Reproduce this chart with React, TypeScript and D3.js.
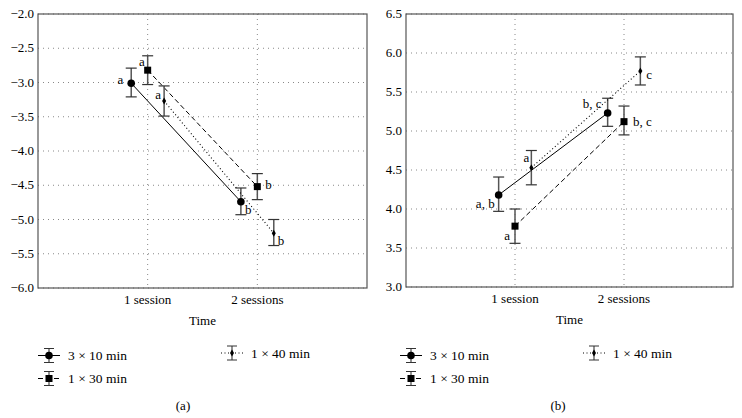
import React, { useEffect, useRef } from "react";
import * as d3 from "d3";

// categories on the x axis
const sessions = ["1 session", "2 sessions"];
const groups = ["3 × 10 min", "1 × 30 min", "1 × 40 min"];

// panel (a): means and error bar ends, per group, per session
const meanA = [
  [-3.01, -4.74],
  [-2.82, -4.52],
  [-3.27, -5.2],
];
const hiA = [
  [-2.79, -4.54],
  [-2.61, -4.33],
  [-3.05, -5.0],
];
const loA = [
  [-3.21, -4.93],
  [-3.03, -4.71],
  [-3.49, -5.38],
];
const lettersA = [
  ["a", "b"],
  ["a", "b"],
  ["a", "b"],
];
const ticksA = [-2.0, -2.5, -3.0, -3.5, -4.0, -4.5, -5.0, -5.5, -6.0];

// panel (b)
const meanB = [
  [4.18, 5.23],
  [3.78, 5.12],
  [4.53, 5.77],
];
const hiB = [
  [4.41, 5.42],
  [4.0, 5.32],
  [4.75, 5.95],
];
const loB = [
  [3.97, 5.06],
  [3.56, 4.95],
  [4.31, 5.59],
];
const lettersB = [
  ["a, b", "b, c"],
  ["a", "b, c"],
  ["a", "c"],
];
const ticksB = [3.0, 3.5, 4.0, 4.5, 5.0, 5.5, 6.0, 6.5];

// letter placement relative to its point: [dx, dy, anchor]
const letterPosA: [number, number, string][][] = [
  [[-8, 1, "end"], [4, 12, "start"]],
  [[-3, -4, "end"], [8, 2, "start"]],
  [[-3, -2, "end"], [4, 12, "start"]],
];
const letterPosB: [number, number, string][][] = [
  [[-4, 13, "end"], [-6, -5, "end"]],
  [[-5, 14, "end"], [9, 4, "start"]],
  [[-2, -6, "end"], [6, 8, "start"]],
];

const dashes = [null, "5,3", "1,2.5"];
const offsets = [-0.15, 0, 0.15];
const FONT = "Liberation Serif";

function drawMarker(g: any, i: number, x: number, y: number) {
  if (i === 0) g.append("circle").attr("cx", x).attr("cy", y).attr("r", 3.8).attr("fill", "#000");
  else if (i === 1) g.append("rect").attr("x", x - 3.5).attr("y", y - 3.5).attr("width", 7).attr("height", 7).attr("fill", "#000");
  else g.append("path").attr("d", d3.symbol().type(d3.symbolDiamond).size(14)()).attr("transform", `translate(${x},${y})`).attr("fill", "#000");
}

function Panel(svg: any, opt: any) {
  const { x0, x1, y0, y1, domain, ticks, mean, hi, lo, letters, letterPos, legendX, caption, captionX, fmt } = opt;
  const x = d3.scaleLinear().domain([0, 3]).range([x0, x1]);
  const y = d3.scaleLinear().domain(domain).range([y1, y0]);
  const g = svg.append("g");

  // grid
  g.selectAll(".hg")
    .data(ticks)
    .join("line")
    .attr("x1", x0)
    .attr("x2", x1)
    .attr("y1", (d: number) => y(d))
    .attr("y2", (d: number) => y(d))
    .attr("stroke", "#888")
    .attr("stroke-dasharray", "1,4");
  g.selectAll(".vg")
    .data(sessions)
    .join("line")
    .attr("x1", (_: any, i: number) => x(i + 1))
    .attr("x2", (_: any, i: number) => x(i + 1))
    .attr("y1", y0)
    .attr("y2", y1)
    .attr("stroke", "#888")
    .attr("stroke-dasharray", "1,4");

  // frame
  g.append("rect")
    .attr("x", x0)
    .attr("y", y0)
    .attr("width", x1 - x0)
    .attr("height", y1 - y0)
    .attr("fill", "none")
    .attr("stroke", "#555")
    .attr("stroke-width", 1.2);

  // y tick labels
  g.selectAll(".yt")
    .data(ticks)
    .join("text")
    .attr("x", x0 - 4)
    .attr("y", (d: number) => y(d) + 4)
    .attr("text-anchor", "end")
    .attr("font-size", 13)
    .text((d: number) => fmt(d));

  // x tick labels
  g.selectAll(".xt")
    .data(sessions)
    .join("text")
    .attr("x", (_: any, i: number) => x(i + 1))
    .attr("y", y1 + 16)
    .attr("text-anchor", "middle")
    .attr("font-size", 13)
    .text((d: string) => d);

  g.append("text")
    .attr("x", (x0 + x1) / 2)
    .attr("y", y1 + 37)
    .attr("text-anchor", "middle")
    .attr("font-size", 13)
    .text("Time");

  // series
  groups.forEach((_, gi) => {
    const pts = sessions.map((__, si) => [x(si + 1 + offsets[gi]), y(mean[gi][si])]);
    g.append("path")
      .attr("d", d3.line()(pts as [number, number][]))
      .attr("stroke", "#000")
      .attr("fill", "none")
      .attr("stroke-width", gi === 2 ? 1.1 : 1)
      .attr("stroke-dasharray", dashes[gi]);
    sessions.forEach((__, si) => {
      const px = pts[si][0];
      const top = y(hi[gi][si]);
      const bot = y(lo[gi][si]);
      g.append("line").attr("x1", px).attr("x2", px).attr("y1", top).attr("y2", bot).attr("stroke", "#555").attr("stroke-width", 1.5);
      [top, bot].forEach((yy) =>
        g.append("line").attr("x1", px - 5.5).attr("x2", px + 5.5).attr("y1", yy).attr("y2", yy).attr("stroke", "#333").attr("stroke-width", 1.2)
      );
      drawMarker(g, gi, px, pts[si][1]);
      const [dx, dy, anchor] = letterPos[gi][si];
      g.append("text")
        .attr("x", px + dx)
        .attr("y", pts[si][1] + dy)
        .attr("text-anchor", anchor)
        .attr("font-size", 13)
        .text(letters[gi][si]);
    });
  });

  // legend
  const legPos = [
    [legendX, 355.5],
    [legendX, 378.5],
    [legendX + 183, 353],
  ];
  groups.forEach((name, gi) => {
    const [lx, ly] = legPos[gi];
    const lg = g.append("g");
    lg.append("line")
      .attr("x1", lx - 11)
      .attr("x2", lx + 11)
      .attr("y1", ly)
      .attr("y2", ly)
      .attr("stroke", "#000")
      .attr("stroke-dasharray", dashes[gi]);
    lg.append("line").attr("x1", lx).attr("x2", lx).attr("y1", ly - 7).attr("y2", ly + 7).attr("stroke", "#555").attr("stroke-width", 1.3);
    [ly - 7, ly + 7].forEach((yy) =>
      lg.append("line").attr("x1", lx - 5).attr("x2", lx + 5).attr("y1", yy).attr("y2", yy).attr("stroke", "#333")
    );
    drawMarker(lg, gi, lx, ly);
    lg.append("text")
      .attr("x", lx + 19)
      .attr("y", ly + 4.5)
      .attr("font-size", 13.5)
      .text(name);
  });

  g.append("text")
    .attr("x", captionX)
    .attr("y", 410)
    .attr("text-anchor", "middle")
    .attr("font-size", 13)
    .text(caption);
}

export default function App() {
  const svgRef = useRef<SVGSVGElement>(null);

  useEffect(() => {
    document.body.style.margin = "0";
    const svg = d3.select(svgRef.current);
    svg.selectAll("*").remove();
    const fmt = (d: number) => d3.format(".1f")(d).replace("-", "−");

    Panel(svg, {
      x0: 38, x1: 367, y0: 14, y1: 288,
      domain: [-6, -2], ticks: ticksA,
      mean: meanA, hi: hiA, lo: loA, letters: lettersA, letterPos: letterPosA,
      legendX: 49, caption: "(a)", captionX: 183, fmt,
    });
    Panel(svg, {
      x0: 406, x1: 733, y0: 14, y1: 287,
      domain: [3, 6.5], ticks: ticksB,
      mean: meanB, hi: hiB, lo: loB, letters: lettersB, letterPos: letterPosB,
      legendX: 411, caption: "(b)", captionX: 558, fmt,
    });
  }, []);

  return (
    <svg
      ref={svgRef}
      width={742}
      height={418}
      fontFamily={FONT}
      style={{ display: "block", background: "#fff", fontFamily: FONT }}
    />
  );
}
